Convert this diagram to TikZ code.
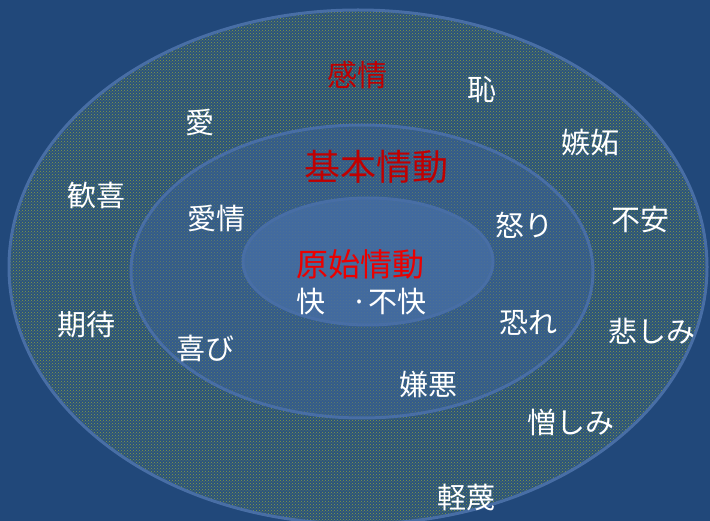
\documentclass[tikz,border=0pt]{standalone}
\usepackage{fontspec}
\setmainfont{Noto Sans CJK JP}
\usetikzlibrary{patterns}
\definecolor{bgblue}{RGB}{33,72,122}
\definecolor{ringA}{RGB}{42,82,124}
\definecolor{ringB}{RGB}{50,90,140}
\definecolor{ringC}{RGB}{66,106,160}
\definecolor{edgeblue}{RGB}{72,110,165}
\definecolor{speck}{RGB}{150,170,55}
\definecolor{darkred}{RGB}{192,0,0}
\definecolor{brightred}{RGB}{235,0,0}
\tikzset{
  ring/.style={draw=edgeblue, line width=3pt},
  word/.style={text=white, font=\fontsize{29}{31}\selectfont, inner sep=0pt},
  title/.style={font=\fontsize{30}{32}\selectfont, inner sep=0pt},
}
\begin{document}
\begin{tikzpicture}[x=1pt,y=-1pt]
\useasboundingbox (0,0) rectangle (710,521);
\clip (0,0) rectangle (710,521);
\fill[bgblue] (0,0) rectangle (710,521);
% outer
\fill[ringA] (358,267) ellipse [x radius=349, y radius=257];
\fill[pattern=crosshatch dots, pattern color=speck, fill opacity=0.85] (358,267) ellipse [x radius=349, y radius=257];
\draw[ring] (358,267) ellipse [x radius=349, y radius=257];
% middle
\fill[ringB] (362,271.5) ellipse [x radius=231, y radius=146.5];
\fill[pattern=crosshatch dots, pattern color=speck, fill opacity=0.5] (362,271.5) ellipse [x radius=231, y radius=146.5];
\draw[ring] (362,271.5) ellipse [x radius=231, y radius=146.5];
% inner
\fill[ringC] (368,261.5) ellipse [x radius=125, y radius=63.5];
\fill[pattern=crosshatch dots, pattern color=speck, fill opacity=0.15] (368,261.5) ellipse [x radius=125, y radius=63.5];
\draw[ring] (368,261.5) ellipse [x radius=125, y radius=63.5];
% titles
\node[title, text=darkred] (kanjo) at (357,75) {感情};
\node[title, text=darkred, font=\fontsize{36}{38}\selectfont] (kihon) at (376,167) {基本情動};
\node[title, text=brightred, font=\fontsize{32}{34}\selectfont] (genshi) at (360,264) {原始情動};
\node[word] (kai) at (311,302) {快};
\node[word] (fukai) at (389,302) {·不快};
% words
\node[word] (haji) at (482,90) {恥};
\node[word] (ai) at (200,122) {愛};
\node[word] (shitto) at (590,143) {嫉妬};
\node[word] (kanki) at (96,195) {歓喜};
\node[word] (aijo) at (216,218) {愛情};
\node[word] (ikari) at (524,225) {怒り};
\node[word] (fuan) at (640,219) {不安};
\node[word] (kitai) at (86,325) {期待};
\node[word] (yorokobi) at (205,348) {喜び};
\node[word] (osore) at (528,323) {恐れ};
\node[word] (kanashimi) at (652,331) {悲しみ};
\node[word] (keno) at (428,384) {嫌悪};
\node[word] (nikushimi) at (571,422) {憎しみ};
\node[word] (keibetsu) at (466,497) {軽蔑};
\end{tikzpicture}
\end{document}
